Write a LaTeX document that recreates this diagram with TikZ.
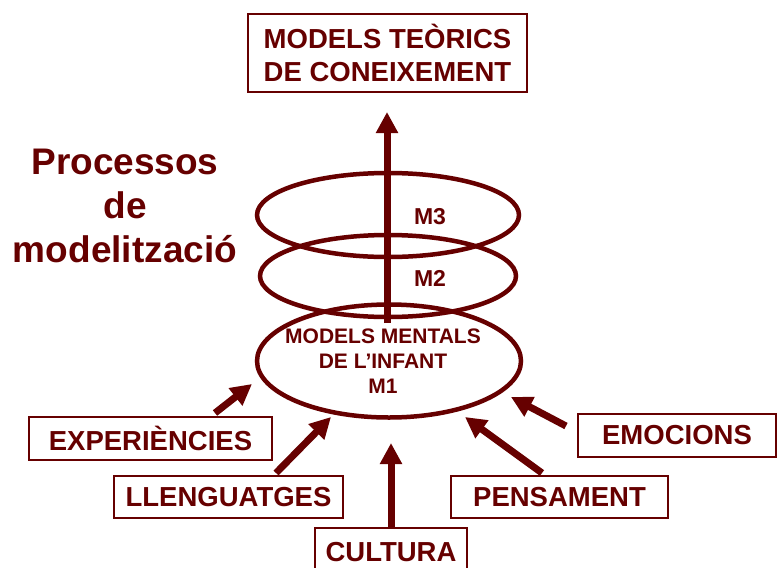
\documentclass[tikz,border=0pt]{standalone}
\usepackage{fontspec}
\setmainfont{Liberation Sans}
\usetikzlibrary{arrows.meta,shapes.geometric}
\definecolor{mar}{RGB}{102,0,0}
\begin{document}
\begin{tikzpicture}[x=1pt,y=-1pt,
  lbl/.style={font=\bfseries\fontsize{27.5}{30}\selectfont, text=mar},
  box/.style={draw=mar, line width=1.5pt, lbl, inner sep=0pt, minimum height=43pt},
  ring/.style={draw=mar, line width=4.5pt, ellipse, inner sep=0pt},
  fat/.style={draw=mar, line width=7pt, -{Triangle[length=21pt,width=21pt]}},
  small/.style={font=\bfseries\fontsize{21}{25}\selectfont, text=mar, align=center}
]
\useasboundingbox (0,0) rectangle (777,568);
% top box
\node[box, font=\bfseries\fontsize{27.5}{33}\selectfont, align=center, minimum width=279pt, minimum height=78pt] (top) at (387.5,53) {MODELS TEÒRICS\\DE CONEIXEMENT};
% title
\node[font=\bfseries\fontsize{37}{44}\selectfont, text=mar, align=center] (title) at (125,206) {Processos\\de\\modelització};
% rings
\node[ring, minimum width=262pt, minimum height=84pt] (m3) at (388,215) {};
\node[ring, minimum width=256pt, minimum height=82pt] (m2) at (388,276) {};
\node[ring, minimum width=264pt, minimum height=113pt] (m1) at (389,361) {};
\node[small, font=\bfseries\fontsize{23}{25}\selectfont] (m3t) at (430,217) {M3};
\node[small, font=\bfseries\fontsize{23}{25}\selectfont] (m2t) at (430,278) {M2};
\node[small] (m1t) at (383,361) {MODELS MENTALS\\DE L’INFANT\\M1};
% vertical arrow
\coordinate (up0) at (387,323);
\coordinate (up1) at (387,112);
\draw[fat] (up0) -- (up1);
% boxes
\node[box, minimum width=243pt] (exp) at (150.5,438.5) {EXPERIÈNCIES};
\node[box, minimum width=229pt, minimum height=42pt] (llen) at (228.5,497) {LLENGUATGES};
\node[box, minimum width=152pt, minimum height=48pt] (cul) at (391,552) {CULTURA};
\node[box, minimum width=217pt, minimum height=42pt] (pen) at (559.5,497) {PENSAMENT};
\node[box, minimum width=198pt] (emo) at (677,435.5) {EMOCIONS};
% arrows into M1
\coordinate (e0) at (215,413); \coordinate (e1) at (252,384);
\coordinate (l0) at (276,473); \coordinate (l1) at (331,417);
\coordinate (c0) at (391,527); \coordinate (c1) at (391,443);
\coordinate (p0) at (542,473); \coordinate (p1) at (465,417);
\coordinate (o0) at (566,426); \coordinate (o1) at (511,397);
\draw[fat] (e0) -- (e1);
\draw[fat] (l0) -- (l1);
\draw[fat] (c0) -- (c1);
\draw[fat] (p0) -- (p1);
\draw[fat] (o0) -- (o1);
\end{tikzpicture}
\end{document}
